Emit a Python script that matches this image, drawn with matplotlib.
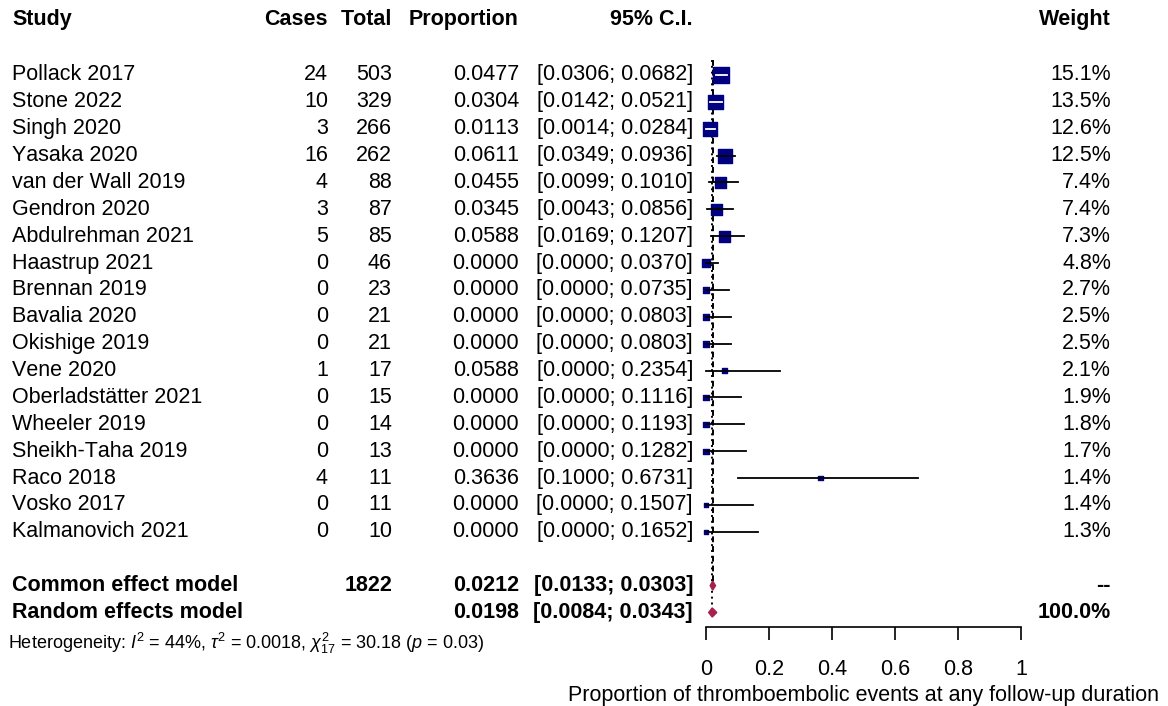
import matplotlib.pyplot as plt
import numpy as np
from matplotlib.transforms import blended_transform_factory

plt.rcParams['font.family'] = ['Liberation Sans', 'DejaVu Sans']
plt.rcParams['mathtext.fontset'] = 'custom'
plt.rcParams['mathtext.rm'] = 'Liberation Sans'
plt.rcParams['mathtext.it'] = 'Liberation Sans:italic'
plt.rcParams['mathtext.bf'] = 'Liberation Sans:bold'
plt.rcParams['text.kerning_factor'] = 10  # keep digit columns even

studies = ["Pollack 2017", "Stone 2022", "Singh 2020", "Yasaka 2020",
           "van der Wall 2019", "Gendron 2020", "Abdulrehman 2021",
           "Haastrup 2021", "Brennan 2019", "Bavalia 2020", "Okishige 2019",
           "Vene 2020", "Oberladstätter 2021", "Wheeler 2019",
           "Sheikh-Taha 2019", "Raco 2018", "Vosko 2017", "Kalmanovich 2021"]
cases = [24, 10, 3, 16, 4, 3, 5, 0, 0, 0, 0, 1, 0, 0, 0, 4, 0, 0]
totals = [503, 329, 266, 262, 88, 87, 85, 46, 23, 21, 21, 17, 15, 14, 13, 11, 11, 10]
proportions = [0.0477, 0.0304, 0.0113, 0.0611, 0.0455, 0.0345, 0.0588, 0.0,
               0.0, 0.0, 0.0, 0.0588, 0.0, 0.0, 0.0, 0.3636, 0.0, 0.0]
ci_low = [0.0306, 0.0142, 0.0014, 0.0349, 0.0099, 0.0043, 0.0169, 0.0,
          0.0, 0.0, 0.0, 0.0, 0.0, 0.0, 0.0, 0.1000, 0.0, 0.0]
ci_high = [0.0682, 0.0521, 0.0284, 0.0936, 0.1010, 0.0856, 0.1207, 0.0370,
           0.0735, 0.0803, 0.0803, 0.2354, 0.1116, 0.1193, 0.1282, 0.6731,
           0.1507, 0.1652]
weights = [15.1, 13.5, 12.6, 12.5, 7.4, 7.4, 7.3, 4.8, 2.7, 2.5, 2.5, 2.1,
           1.9, 1.8, 1.7, 1.4, 1.4, 1.3]

model_names = ["Common effect model", "Random effects model"]
model_total = ["1822", ""]
model_est = [0.0212, 0.0198]
model_low = [0.0133, 0.0084]
model_high = [0.0303, 0.0343]
model_weight = ["--", "100.0%"]

heterogeneity = (r"Heterogeneity: $I^2$ = 44%, $\tau^2$ = 0.0018, "
                 r"$\chi^2_{17}$ = 30.18 ($p$ = 0.03)")
xticks = [0, 0.2, 0.4, 0.6, 0.8, 1]
xlabel = "Proportion of thromboembolic events at any follow-up duration"

W, H = 1168, 706
fig = plt.figure(figsize=(W / 100, H / 100), dpi=100)
ax = fig.add_axes([706 / W, (H - 627) / H, 315 / W, 627 / H])
ax.set_xlim(0, 1)
ax.set_ylim(20.54, -2.79)

rows = np.arange(len(studies))
model_rows = [19, 20]

# forest marks
side_px = 3.95 * np.sqrt(weights)
px_per_unit = 315
ax.scatter(proportions, rows, s=(side_px * 0.72) ** 2, marker='s',
           color='#000080', zorder=3, clip_on=False)
half = side_px / 2 / px_per_unit
for r, p, lo, hi, h in zip(rows, proportions, ci_low, ci_high, half):
    inside = (p - lo) < h and (hi - p) < h
    ax.plot([lo, hi], [r, r], color='white' if inside else 'black',
            lw=1.3, zorder=4, clip_on=False)

dh = 0.17
for r, est, lo, hi in zip(model_rows, model_est, model_low, model_high):
    ax.fill([lo, est, hi, est], [r, r - dh, r, r + dh], color='#A8204E',
            zorder=3, clip_on=False)

ax.vlines(model_est[0], -0.55, model_rows[0], colors='black',
          linestyles=(0, (3, 2)), lw=1.4, zorder=1)
ax.vlines(model_est[1], -0.55, model_rows[1], colors='black',
          linestyles=(0, (1, 2)), lw=1.4, zorder=1)

for side in ['left', 'right', 'top']:
    ax.spines[side].set_visible(False)
ax.spines['bottom'].set_bounds(0, 1)
ax.spines['bottom'].set_linewidth(1.2)
ax.set_yticks([])
ax.set_xticks(xticks)
ax.set_xticklabels([f"{t:g}" for t in xticks])
ax.tick_params(axis='x', length=9, width=1.2, pad=14, labelsize=15.5)
ax.set_xlabel(xlabel, fontsize=15.5, labelpad=4)
ax.patch.set_visible(False)

# text columns
tr = blended_transform_factory(fig.transFigure, ax.transData)
fs = 15.5


def put(px, row, s, ha='right', bold=False, size=fs):
    ax.text(px / W, row, s, transform=tr, ha=ha, va='center', fontsize=size,
            fontweight='bold' if bold else 'normal', clip_on=False)


head = -2.05
put(12, head, "Study", ha='left', bold=True)
put(328, head, "Cases", bold=True)
put(392, head, "Total", bold=True)
put(519, head, "Proportion", bold=True)
put(693, head, "95% C.I.", bold=True)
put(1111, head, "Weight", bold=True)

for r in rows:
    put(12, r, studies[r], ha='left')
    put(328, r, str(cases[r]))
    put(392, r, str(totals[r]))
    put(519, r, f"{proportions[r]:.4f}")
    put(693, r, f"[{ci_low[r]:.4f}; {ci_high[r]:.4f}]")
    put(1111, r, f"{weights[r]:.1f}%")

for i, r in enumerate(model_rows):
    put(12, r, model_names[i], ha='left', bold=True)
    put(392, r, model_total[i], bold=True)
    put(519, r, f"{model_est[i]:.4f}", bold=True)
    put(693, r, f"[{model_low[i]:.4f}; {model_high[i]:.4f}]", bold=True)
    put(1111, r, model_weight[i], bold=True)

put(8, 21.15, heterogeneity, ha='left', size=13)

fig.savefig("out.png", dpi=100)
